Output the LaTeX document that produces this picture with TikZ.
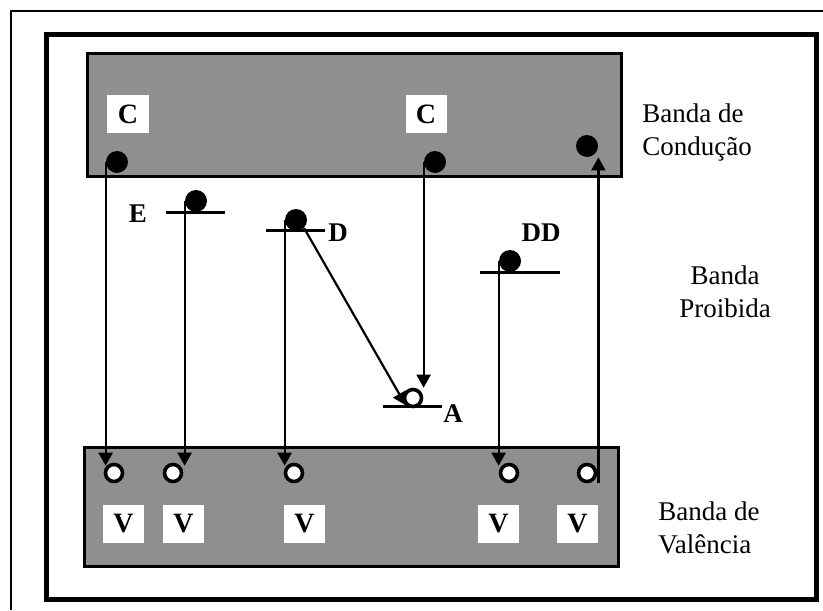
\documentclass[tikz,border=0pt]{standalone}
\usepackage{fontspec}
\setmainfont{Liberation Serif}
\usetikzlibrary{arrows.meta,positioning,calc}
\definecolor{bandgray}{HTML}{8F8F8F}

\begin{document}
\begin{tikzpicture}[x=0.5pt,y=-0.5pt,
      band/.style={draw=black,line width=1.5pt,fill=bandgray},
      tag/.style={fill=white,inner sep=0pt,minimum height=19pt,font=\bfseries\fontsize{14}{14}\selectfont},
      elec/.style={circle,fill=black,inner sep=0pt,minimum size=11pt},
      hole/.style={circle,draw=black,line width=1.8pt,fill=white,inner sep=0pt,minimum size=8.5pt},
      level/.style={line width=1.5pt},
      lbl/.style={inner sep=1pt,font=\bfseries\fontsize{13.5}{13.5}\selectfont},
      side/.style={inner sep=0pt,font=\fontsize{13.5}{16.5}\selectfont},
      arr/.style={-{Triangle[length=6.5pt,width=7pt]},line width=1.1pt}]
    \useasboundingbox (0,0) rectangle (823,610);
    % frames
    \draw[line width=1pt] (11,610) -- (11,11) -- (823,11);
    \draw[line width=2.5pt] (46,35) rectangle (816,599);
    % bands
    \draw[band] (87,54) rectangle (621,176);
    \draw[band] (84,447) rectangle (618,566);
    \node[tag,minimum width=21pt] (cA) at (128,114) {C};
    \node[tag,minimum width=20.5pt] (cB) at (426,114) {C};
    \foreach \x/\n in {123.5/1,183.5/2,304.5/3,498.5/4,577.5/5}
      \node[tag,minimum width=20.5pt] (v\n) at (\x,524) {V};
    % electrons in the conduction band
    \node[elec] (c1) at (117,162) {};
    \node[elec] (c2) at (435,162) {};
    \node[elec] (c3) at (587,146) {};
    % holes in the valence band
    \foreach \x/\n in {114/1,173/2,294/3,509/4,587/5}
      \node[hole] (h\n) at (\x,473) {};
    % levels in the gap
    \node[elec] (e) at (196,201) {};
    \draw[level] (166,212) -- (225,212);
    \node[lbl] (eT) at (138,214) {E};
    \node[elec] (d) at (296,220) {};
    \draw[level] (266,230) -- (325,230);
    \node[lbl] (dT) at (338,233) {D};
    \node[elec] (dd) at (510,261) {};
    \draw[level] (480,272) -- (560,272);
    \node[lbl] (ddT) at (541,233) {DD};
    \draw[level] (383,406) -- (442,406);
    \node[hole] (a) at (413,398) {};
    \node[lbl] (aT) at (453,414) {A};
    % transitions
    \draw[arr] (c1.west) -- (c1.west |- h1.north west);
    \draw[arr] (e.west) -- (e.west |- h2.north east);
    \draw[arr] (d.west) -- (d.west |- h3.north west);
    \draw[arr] (dd.west) -- (dd.west |- h4.north west);
    \draw[arr] (c2.west) -- (c2.west |- a.north);
    \draw[arr] (d.south east) -- (a.south west);
    \draw[arr] (c3.east |- h5.south) -- (c3.east |- c3.south);
    % band names
    \node[side,align=left,anchor=west] (cond) at (642,133) {Banda de\\Condução};
    \node[side,align=center] (gap) at (725,292) {Banda\\Proibida};
    \node[side,align=left,anchor=west] (val) at (658,528) {Banda de\\Valência};
  \end{tikzpicture}
\end{document}
